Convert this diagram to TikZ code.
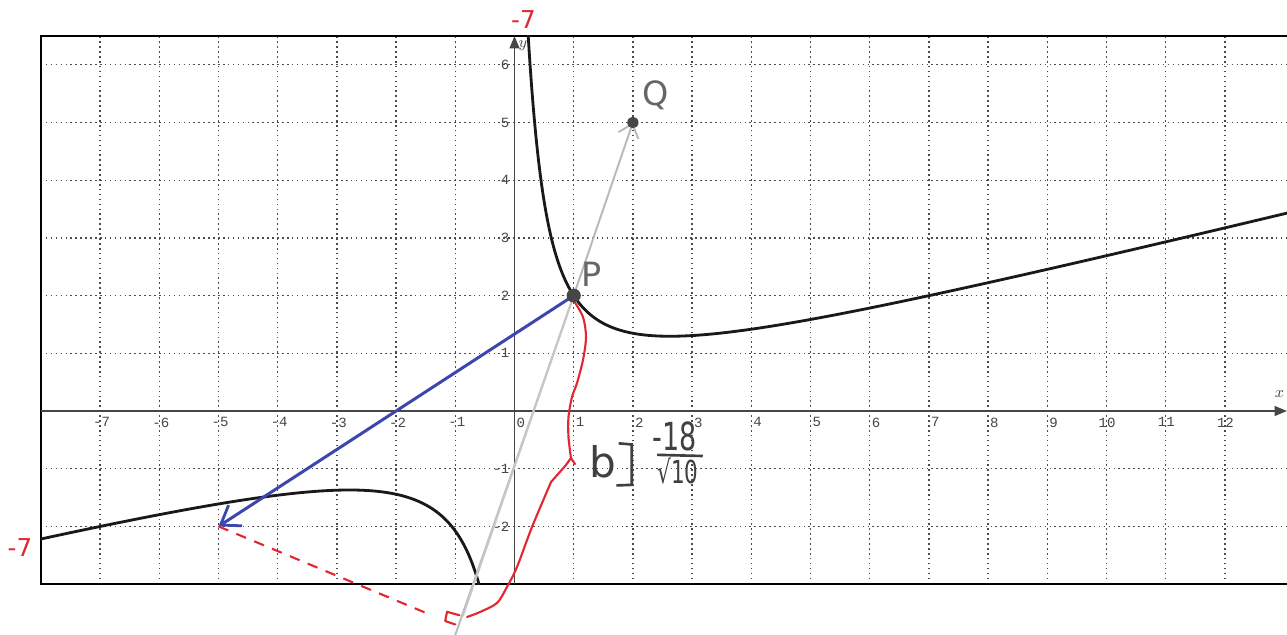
\documentclass[tikz,border=0pt]{standalone}
\usepackage{fontspec}
\newfontfamily\tickfont{Liberation Mono}
\newfontfamily\handfont{DejaVu Sans}
\usetikzlibrary{arrows.meta}
\definecolor{gridc}{RGB}{75,75,75}
\definecolor{axisc}{RGB}{70,70,70}
\definecolor{curvec}{RGB}{25,25,25}
\definecolor{pencil}{RGB}{185,185,185}
\definecolor{penblue}{RGB}{60,70,175}
\definecolor{penred}{RGB}{225,40,50}
\definecolor{lead}{RGB}{70,70,70}
\definecolor{dotc}{RGB}{70,70,70}
\begin{document}
\begin{tikzpicture}[x=1.184cm,y=1.154cm,
  gridline/.style={draw=gridc,line width=0.7pt,dash pattern=on 0.9pt off 1.9pt},
  frameline/.style={draw=black,line width=1.4pt},
  axisline/.style={draw=axisc,line width=1.1pt,-{Triangle[length=7pt,width=5.5pt]}},
  curveline/.style={draw=curvec,line width=1.6pt,line join=round,line cap=round},
  ticklab/.style={font=\tickfont\fontsize{8}{9}\selectfont,text=lead,inner sep=0pt},
  axlab/.style={font=\fontsize{9}{10}\selectfont,text=lead,inner sep=0pt},
  pencilline/.style={draw=pencil,line width=1.1pt,line cap=round},
  pencilarrow/.style={pencilline,-{Straight Barb[length=7pt,width=12pt]}},
  bluearrow/.style={draw=penblue,line width=1.7pt,line cap=round,-{Straight Barb[length=10pt,width=14pt,line width=1.6pt]}},
  redline/.style={draw=penred,line width=1.2pt,line cap=round,line join=round},
  reddash/.style={draw=penred,line width=1.2pt,dash pattern=on 6pt off 5pt},
  handtext/.style={font=\handfont,inner sep=0pt},
  dot/.style={fill=dotc}
]
\useasboundingbox (-8.691,-3.882) rectangle (13.049,7.123);
\fill[white] (-8.691,-3.882) rectangle (13.049,7.123);

% grid
\foreach \i in {-7,...,-1,1,2,...,12} \draw[gridline] (\i,-3) -- (\i,6.5);
\foreach \j in {-2,-1,1,2,...,6} \draw[gridline] (-8,\j) -- (13.1,\j);

% frame
\draw[frameline] (13.1,6.5) -- (-8,6.5) -- (-8,-3) -- (13.1,-3);

% axes
\draw[axisline] (-8,0) -- (13.049,0);
\draw[axisline] (0,-3) -- (0,6.5);
\node[axlab] (xlab) at (12.92,0.29) {$x$};
\node[axlab] (ylab) at (0.14,6.34) {$y$};

% tick labels
\foreach \i in {1,...,7} \node[ticklab,anchor=north west] (xm\i) at (-\i+0.02,-0.11) {\llap{-}\i};
\foreach \i in {0,...,9} \node[ticklab,anchor=north west] (xp\i) at (\i+0.03,-0.11) {\i};
\foreach \i in {10,11,12} \node[ticklab,anchor=north] (xp\i) at (\i+0.01,-0.11) {\i};
\foreach \j in {1,...,6} \node[ticklab,anchor=east] (yp\j) at (-0.08,\j) {\j};
\foreach \j in {1,2} \node[ticklab,anchor=east] (ym\j) at (-0.08,-\j) {-\j};

% curve
\begin{scope}
\clip (-8,-3) rectangle (13.1,6.5);
\draw[curveline] plot[variable=\w,domain=-1.40:2.58,samples=260]
  ({exp(\w)+0.1-0.0193*((0.255*exp(\w)+1.6618/exp(\w))/1.00492)},
   {(0.255*exp(\w)+1.6618/exp(\w))/1.00492});
\draw[curveline] plot[domain=-8.1:-0.57,samples=160]
  (\x,{0.255*\x+0.092+2.204/(\x-0.15)});
\end{scope}

% points
\coordinate (P) at (1,2);
\coordinate (Q) at (2,5);
\coordinate (A) at (-5,-2);
\coordinate (B1) at (-1.0,-3.88);
\coordinate (B2) at (-0.87,-3.55);
\coordinate (F) at (-1.40,-3.54);

% pencil lines
\draw[pencilline] (B1) -- (P);
\draw[pencilline,draw=pencil!80] (B2) -- (P);
\draw[pencilarrow] (P) -- (Q);

% blue vector
\draw[bluearrow] (P) -- (A);

% red dashed perpendicular and right angle mark
\draw[reddash] (A) -- (F);
\draw[redline] (-0.93,-3.54) -- (-1.14,-3.48) -- (-1.17,-3.64) -- (-1.0,-3.70);

% red brace
\draw[redline] plot[smooth,tension=0.5] coordinates {
 (1.005,1.906) (1.157,1.629) (1.208,1.282) (1.157,0.884) (1.056,0.485)
 (0.971,0.243) (0.912,-0.104) (0.912,-0.451) (0.954,-0.815)} -- (1.022,-0.919);
\draw[redline] (0.954,-0.815) -- (0.87,-0.936) -- plot[smooth,tension=0.5] coordinates {
 (0.617,-1.231) (0.296,-2.010) (0.042,-2.704) (-0.127,-3.050) (-0.296,-3.328)
 (-0.583,-3.484) (-0.802,-3.570)};

% dots
\fill[dot] (P) circle[radius=0.12];
\fill[dot] (Q) circle[x radius=0.095,y radius=0.1];

% handwriting
\node[handtext,text=black!60,font=\handfont\fontsize{19}{20}\selectfont] (Plab) at (1.30,2.36) {P};
\node[handtext,text=black!60,font=\handfont\fontsize{19}{20}\selectfont] (Qlab) at (2.38,5.47) {Q};
\node[handtext,text=black!75,font=\handfont\fontsize{24}{26}\selectfont] (blab) at (1.495,-0.884) {b};
\draw[draw=black!75,line width=1.5pt] (1.76,-0.56) -- (1.98,-0.58) -- (1.98,-1.28) -- (1.72,-1.29);
\node[handtext,text=black!75,font=\handfont\fontsize{22}{24}\selectfont,xscale=0.7] (num) at (2.70,-0.433) {-18};
\draw[draw=black!75,line width=1.5pt] (2.41,-0.76) -- (3.18,-0.78);
\node[handtext,text=black!75,font=\handfont\fontsize{18}{20}\selectfont,xscale=0.68] (den) at (2.76,-1.04) {√10};

% red marks
\node[handtext,text=penred,font=\handfont\fontsize{14}{15}\selectfont] (m1) at (0.152,6.785) {-7};
\node[handtext,text=penred,font=\handfont\fontsize{14}{15}\selectfont] (m2) at (-8.353,-2.374) {-7};
\end{tikzpicture}
\end{document}
